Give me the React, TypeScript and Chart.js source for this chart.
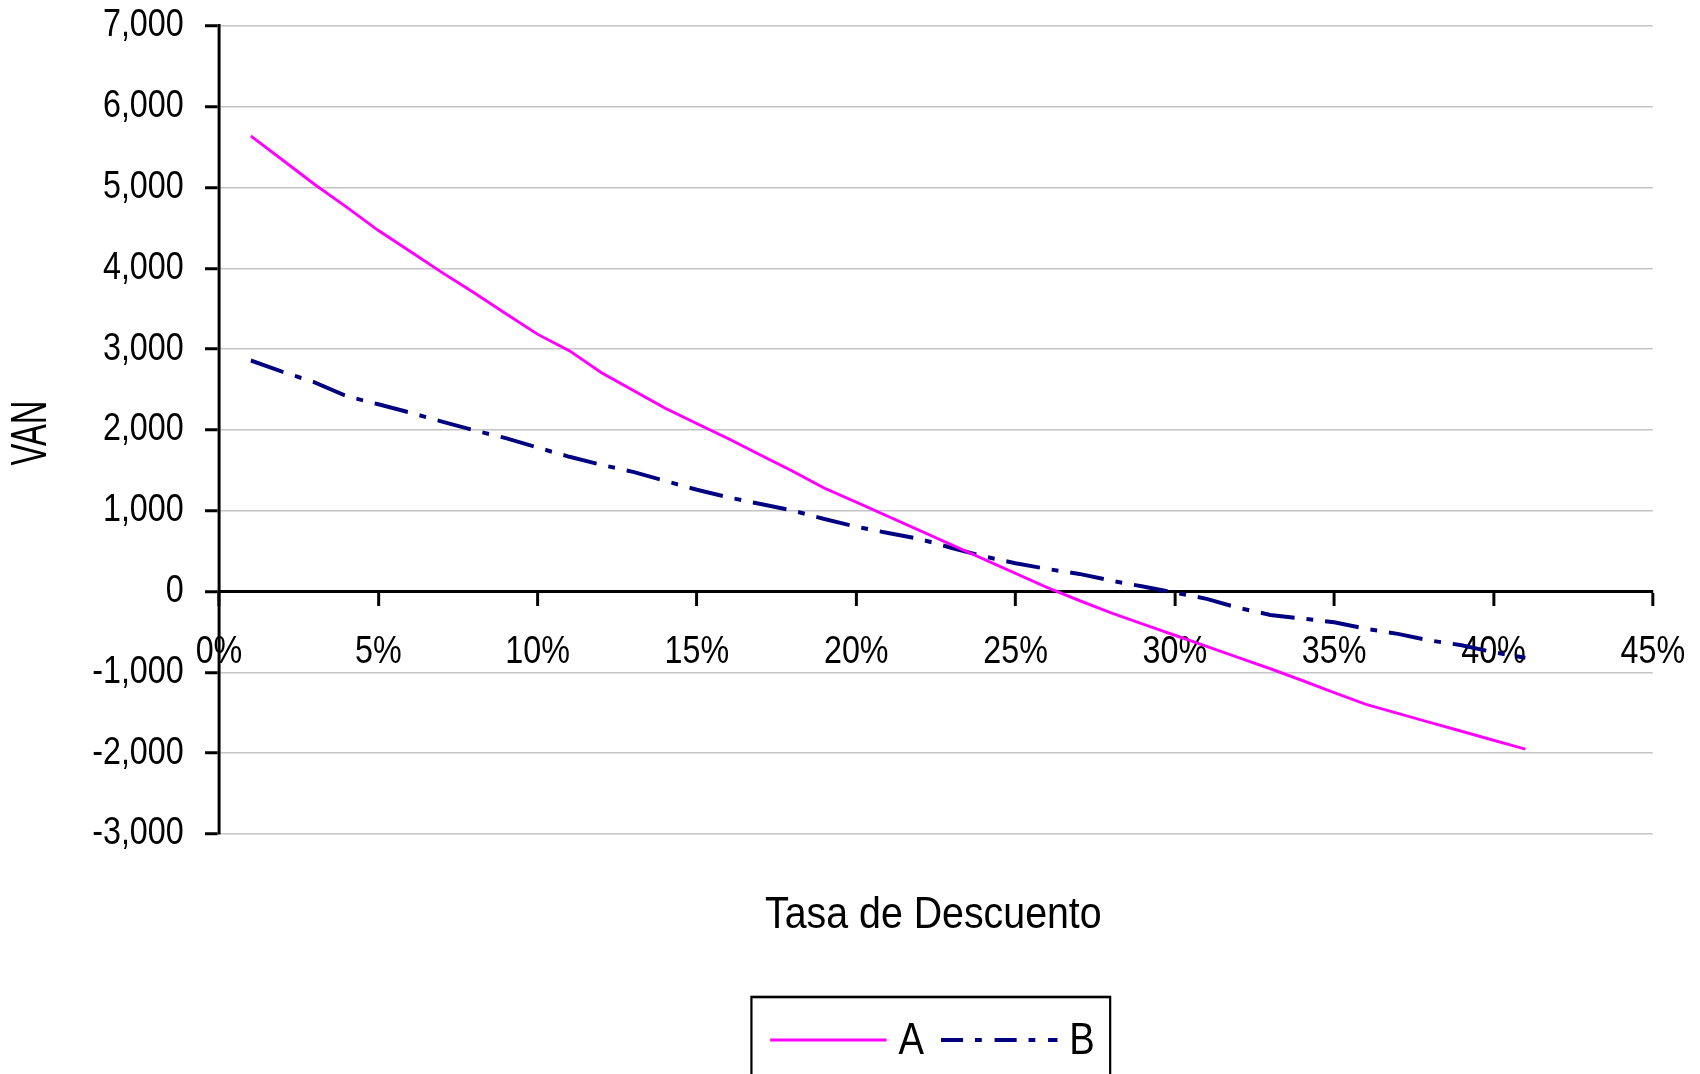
import React, { useEffect, useRef } from "react";
import { Chart, registerables } from "chart.js";

Chart.register(...registerables);

// Tasa de descuento (%) y VAN de cada proyecto
const tasas = [
  1, 2, 3, 4, 5, 6, 7, 8, 9, 10, 11, 12, 13, 14, 15, 16, 17, 18, 19, 20, 21,
  22, 23, 24, 25, 26, 27, 28, 29, 30, 31, 32, 33, 34, 35, 36, 37, 38, 39, 40, 41,
];

const vanA = [
  5640, 5340, 5040, 4760, 4470, 4210, 3950, 3700, 3440, 3185, 2980, 2710, 2490,
  2270, 2080, 1890, 1690, 1490, 1280, 1107, 930, 755, 578, 403, 226, 49, -110,
  -264, -402, -540, -678, -817, -955, -1100, -1250, -1396, -1507, -1618, -1729,
  -1840, -1950,
];

const vanB = [
  2860, 2720, 2590, 2420, 2318, 2215, 2104, 1997, 1899, 1783, 1668, 1569, 1482,
  1371, 1260, 1165, 1083, 1004, 898, 803, 725, 650, 540, 436, 350, 280, 219,
  136, 62, -12, -90, -202, -289, -334, -379, -461, -523, -605, -663, -750, -819,
];

const seriesLabels = ["A", "B"];
const xTitle = "Tasa de Descuento";
const yTitle = "VAN";

const FONT = "'Liberation Sans', Arial, sans-serif";
const COLOR_A = "#FF00FF";
const COLOR_B = "#000080";

// The chart is laid out on a wider canvas and drawn condensed horizontally,
// which gives the narrow lettering of the original sheet.
const VIEW_W = 1700;
const VIEW_H = 1074;
const SQUEEZE = 0.85;
const CANVAS_W = Math.round(VIEW_W / SQUEEZE);

const DASH_B = [40, 14, 8, 14];
const LEGEND_DASH_B = [26, 14, 8, 15];

const condense = {
  id: "condense",
  beforeDraw(chart: any) {
    chart.ctx.setTransform(SQUEEZE, 0, 0, 1, 0, 0);
  },
};

// Axis titles drawn around the plot area
const axisTitles = {
  id: "axisTitles",
  afterDraw(chart: any) {
    const { ctx, chartArea } = chart;
    ctx.save();
    ctx.fillStyle = "#000";

    // vertical title, reading bottom to top
    ctx.save();
    ctx.translate(32 / SQUEEZE, (chartArea.top + chartArea.bottom) / 2 + 3);
    ctx.rotate(-Math.PI / 2);
    ctx.font = `59px ${FONT}`;
    const wv = ctx.measureText(yTitle).width;
    ctx.scale(65 / wv, 1);
    ctx.textAlign = "center";
    ctx.textBaseline = "middle";
    ctx.fillText(yTitle, 0, 0);
    ctx.restore();

    // horizontal title under the plot
    ctx.save();
    ctx.font = `45px ${FONT}`;
    const wx = ctx.measureText(xTitle).width;
    ctx.translate((chartArea.left + chartArea.right) / 2 - 3, chartArea.bottom + 94);
    ctx.scale(396 / wx, 1);
    ctx.textAlign = "center";
    ctx.textBaseline = "alphabetic";
    ctx.fillText(xTitle, 0, 0);
    ctx.restore();

    ctx.restore();
  },
};

// Framed legend centred under the plot area
const legendBox = {
  id: "legendBox",
  afterDraw(chart: any) {
    const { ctx, chartArea } = chart;
    const datasets = chart.data.datasets;
    ctx.save();
    ctx.font = `45px ${FONT}`;
    const sample = 137;
    const gapText = 14;
    const gapItem = 20;
    const padL = 22;
    const padR = 18;
    const widths = datasets.map((d: any) => ctx.measureText(d.label).width);
    let total = padL + padR + gapItem * (datasets.length - 1);
    widths.forEach((w: number) => (total += sample + gapText + w));
    const left = (chartArea.left + chartArea.right) / 2 - 6 - total / 2;
    const top = Math.round(chartArea.bottom + 163);

    ctx.strokeStyle = "#000";
    ctx.lineWidth = 2.6;
    ctx.strokeRect(left, top, total, 140);

    let x = left + padL;
    const yLine = top + 43;
    datasets.forEach((d: any, i: number) => {
      ctx.save();
      ctx.strokeStyle = d.borderColor;
      ctx.lineWidth = d.borderWidth;
      ctx.lineCap = "butt";
      ctx.setLineDash(i === 1 ? LEGEND_DASH_B : []);
      ctx.beginPath();
      ctx.moveTo(x, yLine);
      ctx.lineTo(x + sample, yLine);
      ctx.stroke();
      ctx.restore();
      x += sample + gapText;
      ctx.fillStyle = "#000";
      ctx.textAlign = "left";
      ctx.textBaseline = "alphabetic";
      ctx.fillText(d.label, x, top + 57);
      x += widths[i] + gapItem;
    });
    ctx.restore();
  },
};

export default function App() {
  const canvasRef = useRef<HTMLCanvasElement | null>(null);

  useEffect(() => {
    const canvas = canvasRef.current;
    if (!canvas) return;
    Chart.defaults.font.family = FONT;
    Chart.defaults.color = "#000";

    const chart = new Chart(canvas, {
      type: "line",
      data: {
        datasets: [
          {
            label: seriesLabels[0],
            data: tasas.map((t, i) => ({ x: t, y: vanA[i] })),
            borderColor: COLOR_A,
            backgroundColor: COLOR_A,
            borderWidth: 3,
            pointRadius: 0,
            tension: 0,
          },
          {
            label: seriesLabels[1],
            data: tasas.map((t, i) => ({ x: t, y: vanB[i] })),
            borderColor: COLOR_B,
            backgroundColor: COLOR_B,
            borderWidth: 4,
            borderDash: DASH_B,
            borderCapStyle: "butt",
            pointRadius: 0,
            tension: 0,
          },
        ],
      },
      options: {
        responsive: false,
        animation: false,
        devicePixelRatio: 1,
        layout: { padding: { left: 0, top: 26, right: CANVAS_W - 1652.8 / SQUEEZE, bottom: 240 } },
        plugins: {
          legend: { display: false },
          tooltip: { enabled: false },
        },
        scales: {
          x: {
            type: "linear",
            position: { y: 0 },
            min: 0,
            max: 45,
            afterFit: (scale: any) => {
              scale.paddingLeft = 0;
              scale.paddingRight = 0;
            },
            grid: {
              drawOnChartArea: false,
              drawTicks: true,
              tickLength: 13,
              tickColor: "#000",
              tickWidth: 3.5,
            },
            border: { display: true, color: "#000", width: 3 },
            ticks: {
              stepSize: 5,
              padding: 25,
              maxRotation: 0,
              autoSkip: false,
              font: { size: 38 },
              color: "#000",
              callback: (v: any) => `${v}%`,
            },
          },
          y: {
            type: "linear",
            position: "left",
            min: -3000,
            max: 7000,
            afterFit: (scale: any) => {
              scale.width = 219 / SQUEEZE;
              scale.paddingTop = 0;
              scale.paddingBottom = 0;
            },
            grid: {
              color: "#c4c4c4",
              lineWidth: 1.5,
              drawTicks: true,
              tickLength: 14 / SQUEEZE,
              tickColor: "#000",
              tickWidth: 3,
            },
            border: { display: true, color: "#000", width: 3.5 },
            ticks: {
              stepSize: 1000,
              padding: 25,
              font: { size: 38 },
              color: "#000",
              callback: (v: any) => Number(v).toLocaleString("en-US"),
            },
          },
        },
      },
      plugins: [condense, axisTitles, legendBox],
    });

    return () => chart.destroy();
  }, []);

  return (
    <div
      style={{
        position: "fixed",
        left: 0,
        top: 0,
        width: VIEW_W,
        height: VIEW_H,
        background: "#fff",
        overflow: "hidden",
      }}
    >
      <canvas ref={canvasRef} width={CANVAS_W} height={VIEW_H} />
    </div>
  );
}
